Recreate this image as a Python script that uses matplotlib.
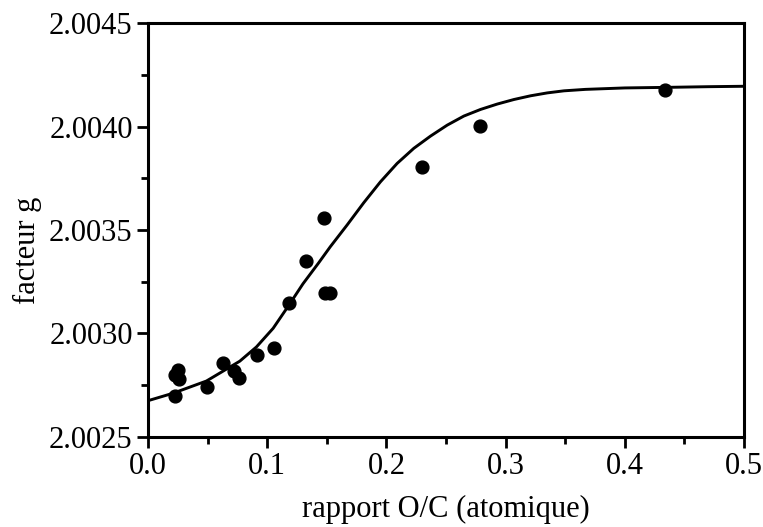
import matplotlib
matplotlib.use('Agg')
import matplotlib.pyplot as plt
from matplotlib.ticker import MultipleLocator, FormatStrFormatter

plt.rcParams['font.family'] = ['Liberation Serif', 'DejaVu Serif']

# measured points
oc_ratio = [0.0227, 0.0255, 0.0263, 0.0227, 0.0493, 0.0628, 0.0725, 0.0765,
            0.0918, 0.1053, 0.1185, 0.1325, 0.1473, 0.1487, 0.1529, 0.2296,
            0.2787, 0.4335]
g_factor = [2.00280, 2.002824, 2.002779, 2.002698, 2.00274, 2.002859, 2.00282,
            2.002786, 2.002896, 2.002928, 2.003149, 2.00335, 2.003557, 2.003197,
            2.003197, 2.003804, 2.004005, 2.004178]

# fitted curve
fit_x = [0.0, 0.021, 0.049, 0.077, 0.091, 0.105, 0.118, 0.130, 0.143, 0.1529,
         0.167, 0.181, 0.195, 0.209, 0.223, 0.237, 0.251, 0.265, 0.279, 0.293,
         0.307, 0.321, 0.335, 0.349, 0.367, 0.400, 0.438, 0.470, 0.5]
fit_y = [2.002675, 2.002711, 2.002770, 2.002866, 2.002935, 2.003025, 2.003135,
         2.003240, 2.003340, 2.003419, 2.003524, 2.003632, 2.003733, 2.003822,
         2.003895, 2.003954, 2.004007, 2.004051, 2.004083, 2.004109, 2.004131,
         2.004149, 2.004163, 2.004173, 2.004180, 2.004187, 2.004190, 2.004193,
         2.004195]

fig = plt.figure(figsize=(7.63, 5.27), dpi=100)
ax = fig.add_axes([0.194, 0.171, 0.781, 0.785])

ax.plot(fit_x, fit_y, color='black', lw=2.1)
ax.scatter(oc_ratio, g_factor, s=85, color='black', zorder=3, clip_on=False)

ax.set_xlim(0.0, 0.5)
ax.set_ylim(2.0025, 2.0045)
ax.xaxis.set_major_locator(MultipleLocator(0.1))
ax.xaxis.set_minor_locator(MultipleLocator(0.05))
ax.yaxis.set_major_locator(MultipleLocator(0.0005))
ax.yaxis.set_minor_locator(MultipleLocator(0.00025))
ax.xaxis.set_major_formatter(FormatStrFormatter('%.1f'))
ax.yaxis.set_major_formatter(FormatStrFormatter('%.4f'))

for s in ax.spines.values():
    s.set_linewidth(2.2)
ax.tick_params(which='both', direction='out', top=False, right=False, width=2.0)
ax.tick_params(which='major', length=8, labelsize=22, pad=3)
ax.tick_params(which='minor', length=5)

ax.set_xlabel('rapport O/C (atomique)', fontsize=22, labelpad=10)
ax.set_ylabel('facteur g', fontsize=22)
ax.yaxis.set_label_coords(-0.178, 0.452)

fig.savefig('out.png', dpi=100)
